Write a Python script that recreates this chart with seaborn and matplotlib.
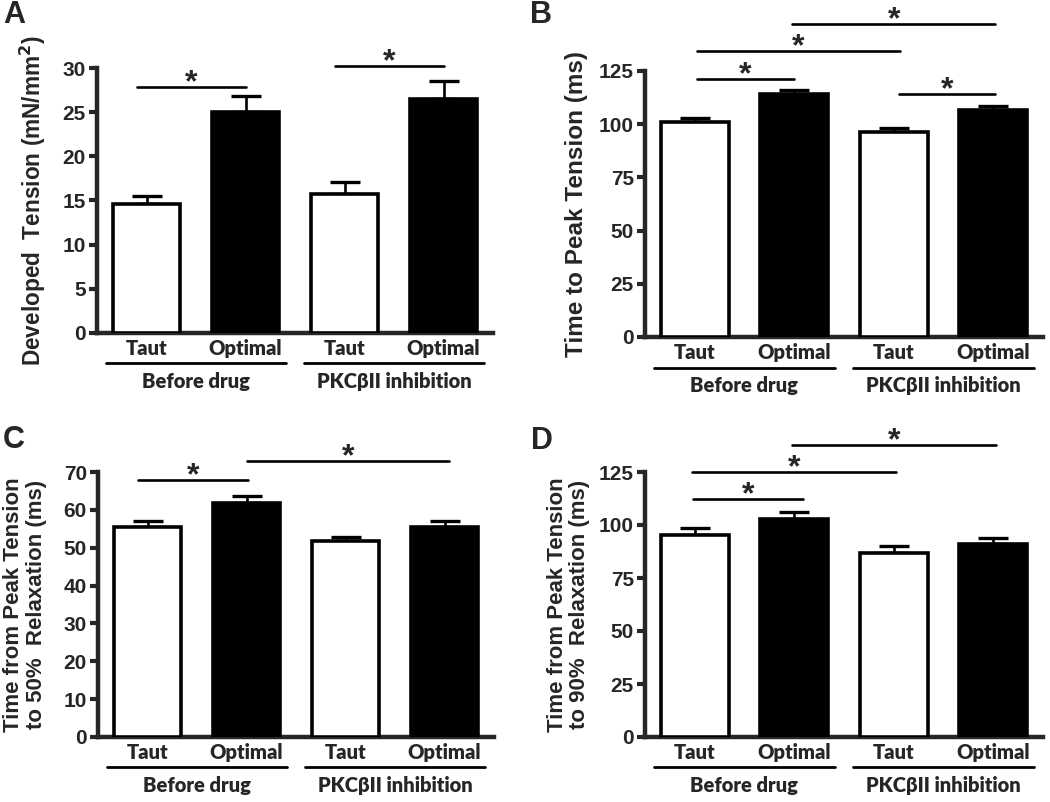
import numpy as np
import pandas as pd
import seaborn as sns
import matplotlib.pyplot as plt

# condition labels shared by all four panels
conditions = ['Taut', 'Optimal', 'Taut', 'Optimal']
groups = ['Before drug', 'PKCβII inhibition']
bar_colors = ['white', 'black', 'white', 'black']

# panel A: developed tension
tension_mean = [14.6, 25.0, 15.7, 26.5]
tension_sem = [0.9, 1.8, 1.4, 2.0]
# panel B: time to peak tension
ttp_mean = [101.0, 114.0, 96.3, 106.7]
ttp_sem = [2.0, 2.0, 1.9, 1.8]
# panel C: peak tension to 50% relaxation
r50_mean = [55.5, 61.8, 51.8, 55.5]
r50_sem = [1.5, 1.9, 1.0, 1.6]
# panel D: peak tension to 90% relaxation
r90_mean = [95.3, 102.8, 86.8, 91.0]
r90_sem = [3.3, 3.3, 3.3, 2.9]

# significance bars: (x start, x end, height)
sig_a = [(-0.1, 1.0, 27.85), (1.9, 3.0, 30.2)]
sig_b = [(0.02, 1.0, 121.2), (0.02, 2.06, 134.3), (0.98, 3.02, 147.0), (2.05, 3.02, 114.0)]
sig_c = [(-0.1, 1.02, 67.9), (1.0, 3.05, 72.9)]
sig_d = [(-0.02, 1.09, 112.3), (-0.03, 2.02, 125.0), (0.98, 3.03, 137.7)]

sns.set_style("ticks")
plt.rcParams['font.family'] = ['Liberation Sans', 'DejaVu Sans']
plt.rcParams['font.weight'] = 'bold'

fig = plt.figure(figsize=(10.5, 8.02), dpi=100)


def draw_panel(rect, means, sems, ymax, ystep, ylabel, sigs, label_x, label_size):
    ax = fig.add_axes(rect)
    df = pd.DataFrame({
        'cond': [f'{c} ({g})' for c, g in zip(conditions, np.repeat(groups, 2))],
        'value': means,
    })
    order = list(df['cond'])
    sns.barplot(data=df, x='cond', y='value', hue='cond', order=order, hue_order=order,
                palette=dict(zip(order, bar_colors)), width=0.68, edgecolor='black',
                linewidth=2.6, errorbar=None, legend=False, ax=ax, zorder=3)
    # upper half of SEM only
    ax.errorbar(np.arange(4), means, yerr=[np.zeros(4), sems], fmt='none',
                ecolor='black', elinewidth=1.9, capsize=11, capthick=2.4, zorder=2)

    ax.set_xlim(-0.5, 3.5)
    ax.set_ylim(0, ymax)
    ax.set_yticks(np.arange(0, ymax + 0.1, ystep))
    ax.set_xticks(range(4))
    ax.set_xticklabels(conditions, fontfamily='Lato', fontweight='heavy', fontsize=14.5)
    ax.tick_params(axis='x', length=0, pad=4)
    ax.tick_params(axis='y', length=6, width=3, pad=2)
    plt.setp(ax.get_yticklabels(), fontweight='bold', fontsize=15)
    for s in ['top', 'right']:
        ax.spines[s].set_visible(False)
    for s in ['left', 'bottom']:
        ax.spines[s].set_linewidth(3.2)

    ax.set_xlabel('')
    ax.set_ylabel(ylabel, fontsize=label_size, fontweight='bold', linespacing=1.1)
    ax.yaxis.label.set_va('center')
    ax.yaxis.set_label_coords(label_x, 0.5)

    # group underline + group name
    tr = ax.get_xaxis_transform()
    for gi, name in enumerate(groups):
        c = 0.5 + 2 * gi
        ax.plot([c - 0.91, c + 0.91], [-0.115, -0.115], color='black', lw=2,
                transform=tr, clip_on=False)
        ax.text(c, -0.207, name, transform=tr, ha='center', va='baseline',
                fontfamily='Lato', fontweight='heavy', fontsize=14.5)

    for x0, x1, y in sigs:
        ax.plot([x0, x1], [y, y], color='black', lw=1.9, clip_on=False)
        ax.annotate('*', xy=((x0 + x1) / 2, y), xytext=(0, -3), textcoords='offset points',
                    ha='center', va='baseline', fontsize=23, fontweight='bold',
                    annotation_clip=False)
    return ax


W, H = 1050, 802
draw_panel([97 / W, 1 - 333 / H, 396 / W, 265 / H], tension_mean, tension_sem, 30, 5,
           'Developed  Tension (mN/mm$\\mathbf{^2}$)', sig_a, -0.162, 16.3)
draw_panel([645 / W, 1 - 337 / H, 398 / W, 266 / H], ttp_mean, ttp_sem, 125, 25,
           'Time to Peak Tension (ms)', sig_b, -0.171, 17.5)
draw_panel([98 / W, 1 - 737 / H, 396 / W, 265 / H], r50_mean, r50_sem, 70, 10,
           'Time from Peak Tension\nto 50%  Relaxation (ms)', sig_c, -0.184, 16)
draw_panel([645 / W, 1 - 737 / H, 398 / W, 265 / H], r90_mean, r90_sem, 125, 25,
           'Time from Peak Tension\nto 90%  Relaxation (ms)', sig_d, -0.192, 16)

for letter, px, py in [('A', 3, 23), ('B', 530, 23), ('C', 3, 448), ('D', 531, 449)]:
    fig.text(px / W, 1 - py / H, letter, fontsize=22, fontweight='bold', va='baseline')

fig.savefig('out.png', dpi=100)
